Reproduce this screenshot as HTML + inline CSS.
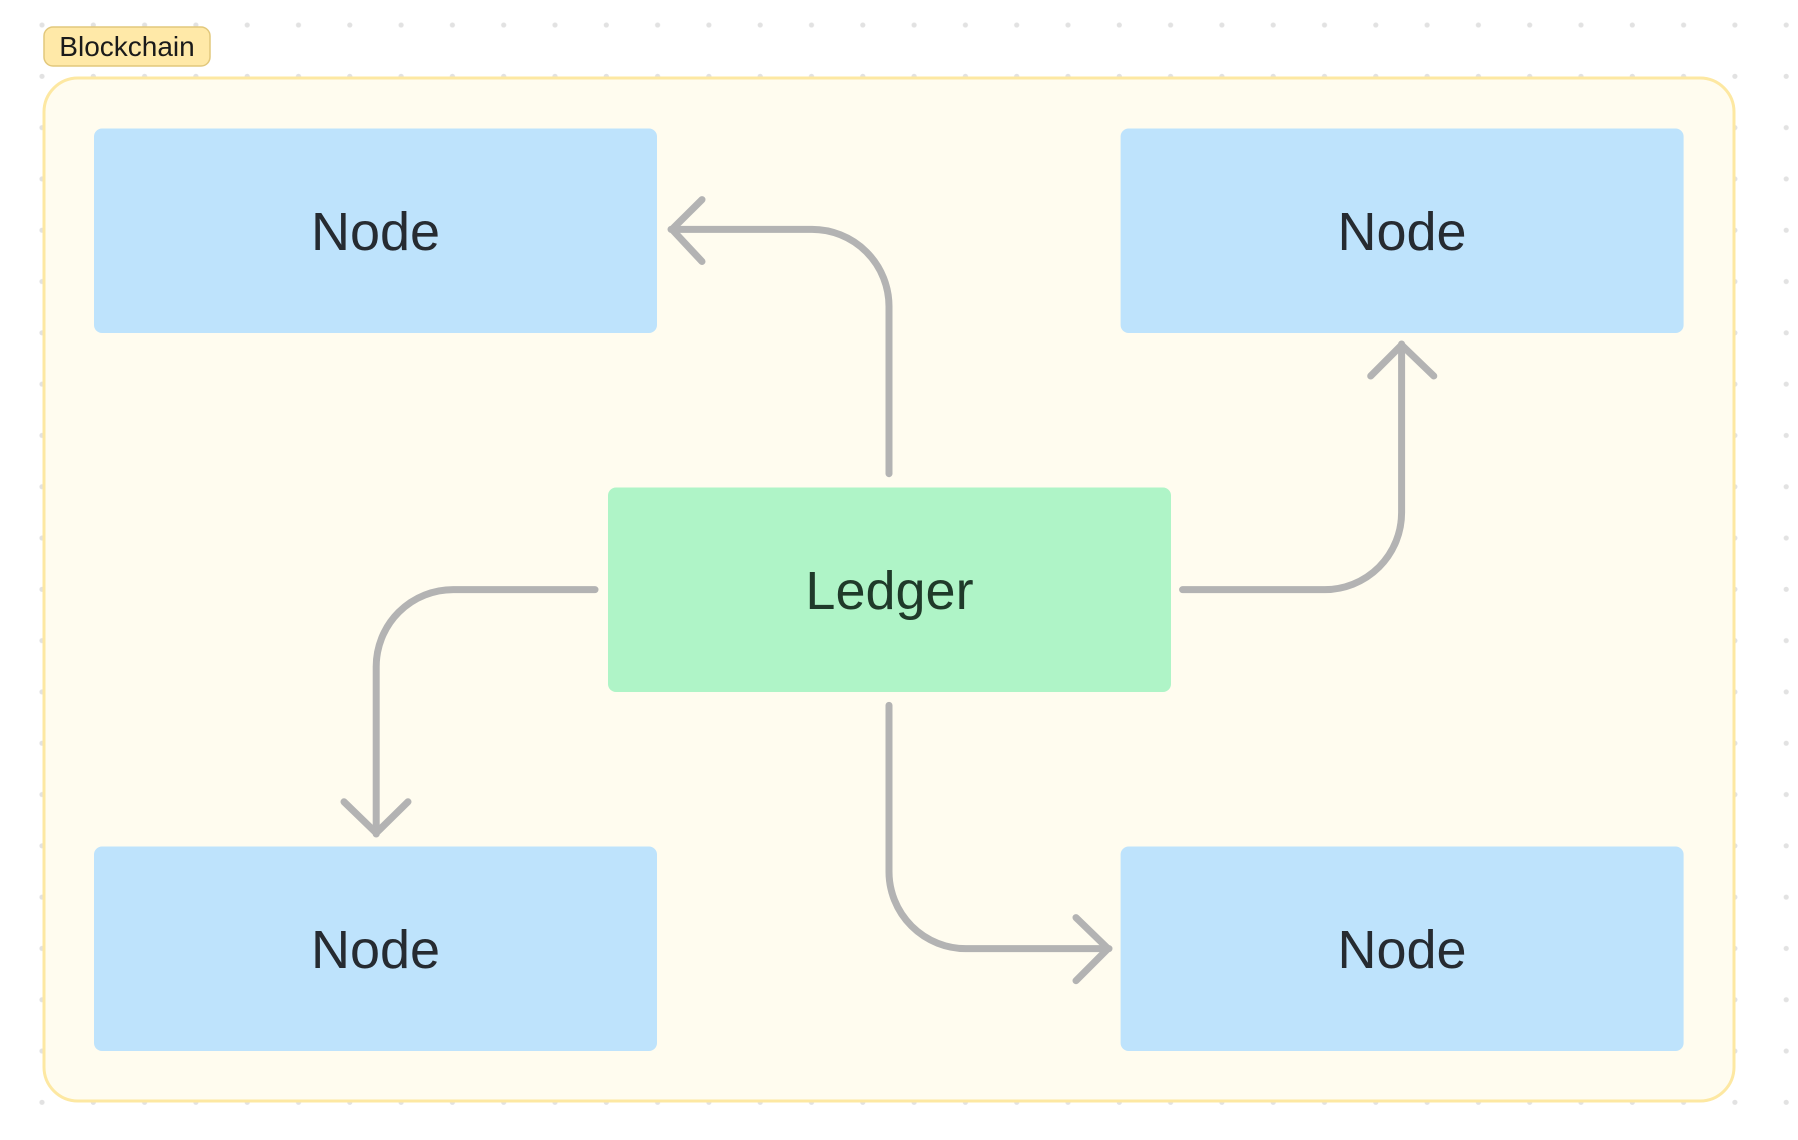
<!DOCTYPE html>
<html><head><meta charset="utf-8"><style>
html,body{margin:0;padding:0;background:#fff;}
svg{display:block;}
text{font-family:"Liberation Sans",sans-serif;}
</style></head><body>
<svg width="1798" height="1140" viewBox="0 0 1798 1140" xmlns="http://www.w3.org/2000/svg">
<defs>
<pattern id="dots" x="16.3" y="-0.7" width="51.3" height="51.3" patternUnits="userSpaceOnUse">
<circle cx="25.7" cy="25.7" r="2.6" fill="#e2e2e2"/>
</pattern>
</defs>
<rect width="1798" height="1140" fill="url(#dots)"/>
<rect x="44" y="78" width="1690" height="1023" rx="34" fill="#fffcef" stroke="#fde8a2" stroke-width="3"/>
<rect x="44" y="27" width="166" height="39" rx="9" fill="#ffe9a8" stroke="#e2c87c" stroke-width="1.5"/>
<text x="127" y="56" font-size="28" text-anchor="middle" fill="#1a1a1a">Blockchain</text>

<rect x="94" y="128.5" width="563" height="204.5" rx="8" fill="#bee3fc"/>
<rect x="1120.6" y="128.5" width="563" height="204.5" rx="8" fill="#bee3fc"/>
<rect x="94" y="846.5" width="563" height="204.5" rx="8" fill="#bee3fc"/>
<rect x="1120.6" y="846.5" width="563" height="204.5" rx="8" fill="#bee3fc"/>
<rect x="608" y="487.5" width="563" height="204.5" rx="8" fill="#aff4c7"/>

<g font-size="54" text-anchor="middle" fill="#262b31">
<text x="375.5" y="250">Node</text>
<text x="1402" y="250">Node</text>
<text x="375.5" y="968">Node</text>
<text x="1402" y="968">Node</text>
<text x="889.5" y="609" fill="#1f3a2a">Ledger</text>
</g>

<g fill="none" stroke="#b3b3b3" stroke-width="7" stroke-linecap="round" stroke-linejoin="round">
<path d="M889 473.7 V306.4 A77 77 0 0 0 812 229.4 H671"/>
<path d="M702 199.6 L672 229.4 L702 261.5"/>
<path d="M1182.6 589.6 H1324.6 A77 77 0 0 0 1401.6 512.6 V344"/>
<path d="M1370.7 376 L1401.6 345 L1433.8 376"/>
<path d="M595 589.6 H453.2 A77 77 0 0 0 376.2 666.6 V834"/>
<path d="M344 801.8 L376.2 833 L408 801.8"/>
<path d="M889 705.4 V871.6 A77 77 0 0 0 966 948.6 H1109"/>
<path d="M1076 917.6 L1108 948.6 L1076 980.7"/>
</g>
</svg>
</body></html>
